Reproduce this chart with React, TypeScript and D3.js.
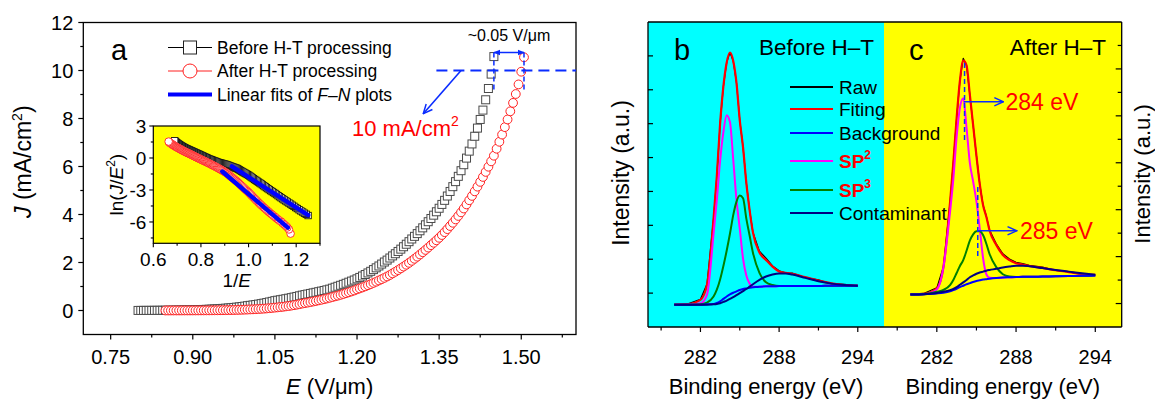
import React from 'react'
import * as d3 from 'd3'

// ---- panel a: J-E curves (E in V/um, J in mA/cm2) ----
const beforeE = [
  0.8, 0.805, 0.81, 0.815, 0.82, 0.825, 0.83, 0.835, 0.84, 0.845, 0.85, 0.855, 0.86, 0.865, 0.87, 0.875, 0.88, 0.885,
  0.89, 0.895, 0.9, 0.905, 0.91, 0.915, 0.92, 0.925, 0.93, 0.935, 0.94, 0.945, 0.95, 0.955, 0.96, 0.965, 0.97, 0.975,
  0.98, 0.985, 0.99, 0.995, 1.0, 1.005, 1.01, 1.015, 1.02, 1.025, 1.03, 1.035, 1.04, 1.045, 1.05, 1.055, 1.06, 1.065,
  1.07, 1.075, 1.08, 1.085, 1.09, 1.095, 1.1, 1.105, 1.11, 1.115, 1.12, 1.125, 1.13, 1.135, 1.14, 1.145, 1.15, 1.155,
  1.16, 1.165, 1.17, 1.175, 1.18, 1.185, 1.19, 1.195, 1.2, 1.205, 1.21, 1.215, 1.22, 1.225, 1.23, 1.235, 1.24, 1.245,
  1.25, 1.255, 1.26, 1.265, 1.27, 1.275, 1.28, 1.285, 1.29, 1.295, 1.3, 1.305, 1.31, 1.315, 1.32, 1.325, 1.33, 1.335,
  1.34, 1.345, 1.35, 1.355, 1.36, 1.365, 1.37, 1.375, 1.38, 1.385, 1.39, 1.395, 1.4, 1.405, 1.41, 1.415, 1.42, 1.425,
  1.43, 1.435, 1.44, 1.445, 1.45
]
const beforeJ = [
  0.0029, 0.0033, 0.0037, 0.0042, 0.0047, 0.0053, 0.006, 0.0067, 0.0076, 0.0085, 0.0096, 0.0107, 0.012, 0.0134,
  0.0149, 0.0167, 0.0186, 0.0208, 0.0232, 0.026, 0.029, 0.0321, 0.0355, 0.0393, 0.0435, 0.0482, 0.0533, 0.059, 0.0653,
  0.0723, 0.08, 0.0877, 0.0961, 0.1053, 0.1154, 0.1265, 0.1387, 0.152, 0.1666, 0.1826, 0.2, 0.215, 0.231, 0.248, 0.266,
  0.286, 0.307, 0.33, 0.355, 0.381, 0.41, 0.429, 0.448, 0.468, 0.49, 0.512, 0.535, 0.56, 0.585, 0.612, 0.64, 0.663,
  0.686, 0.71, 0.734, 0.758, 0.783, 0.808, 0.834, 0.861, 0.89, 0.93, 0.97, 1.01, 1.05, 1.09, 1.135, 1.18, 1.225, 1.27,
  1.32, 1.378, 1.438, 1.5, 1.565, 1.633, 1.704, 1.778, 1.855, 1.935, 2.02, 2.1, 2.187, 2.275, 2.366, 2.46, 2.557, 2.657,
  2.761, 2.868, 2.98, 3.09, 3.204, 3.322, 3.444, 3.57, 3.7, 3.834, 3.972, 4.114, 4.26, 4.42, 4.59, 4.77, 4.96, 5.16,
  5.37, 5.59, 5.825, 6.075, 6.35, 6.64, 6.94, 7.26, 7.6, 7.96, 8.35, 8.78, 9.25, 9.85, 10.58
]
const afterE = [
  0.85, 0.855, 0.86, 0.865, 0.87, 0.875, 0.88, 0.885, 0.89, 0.895, 0.9, 0.905, 0.91, 0.915, 0.92, 0.925, 0.93, 0.935,
  0.94, 0.945, 0.95, 0.955, 0.96, 0.965, 0.97, 0.975, 0.98, 0.985, 0.99, 0.995, 1.0, 1.005, 1.01, 1.015, 1.02, 1.025,
  1.03, 1.035, 1.04, 1.045, 1.05, 1.055, 1.06, 1.065, 1.07, 1.075, 1.08, 1.085, 1.09, 1.095, 1.1, 1.105, 1.11, 1.115,
  1.12, 1.125, 1.13, 1.135, 1.14, 1.145, 1.15, 1.155, 1.16, 1.165, 1.17, 1.175, 1.18, 1.185, 1.19, 1.195, 1.2, 1.205,
  1.21, 1.215, 1.22, 1.225, 1.23, 1.235, 1.24, 1.245, 1.25, 1.255, 1.26, 1.265, 1.27, 1.275, 1.28, 1.285, 1.29, 1.295,
  1.3, 1.305, 1.31, 1.315, 1.32, 1.325, 1.33, 1.335, 1.34, 1.345, 1.35, 1.355, 1.36, 1.365, 1.37, 1.375, 1.38, 1.385,
  1.39, 1.395, 1.4, 1.405, 1.41, 1.415, 1.42, 1.425, 1.43, 1.435, 1.44, 1.445, 1.45, 1.455, 1.46, 1.465, 1.47, 1.475,
  1.48, 1.485, 1.49, 1.495, 1.5, 1.505
]
const afterJ = [
  0.0006, 0.0009, 0.0011, 0.0013, 0.0015, 0.0017, 0.002, 0.0022, 0.0025, 0.0028, 0.0032, 0.0036, 0.0041, 0.0046,
  0.0052, 0.0059, 0.0067, 0.0076, 0.0086, 0.0097, 0.011, 0.0125, 0.0142, 0.0162, 0.0184, 0.021, 0.0239, 0.0272, 0.031,
  0.0352, 0.04, 0.0447, 0.0498, 0.0556, 0.062, 0.0692, 0.0773, 0.0862, 0.0962, 0.1075, 0.12, 0.131, 0.143, 0.156,
  0.171, 0.186, 0.204, 0.222, 0.243, 0.265, 0.29, 0.31, 0.33, 0.352, 0.375, 0.398, 0.422, 0.447, 0.473, 0.5, 0.53,
  0.56, 0.59, 0.62, 0.653, 0.687, 0.722, 0.758, 0.795, 0.835, 0.88, 0.92, 0.962, 1.006, 1.052, 1.1, 1.15, 1.2, 1.252,
  1.306, 1.36, 1.418, 1.48, 1.546, 1.614, 1.684, 1.756, 1.83, 1.906, 1.986, 2.07, 2.155, 2.243, 2.334, 2.428, 2.524,
  2.622, 2.722, 2.822, 2.925, 3.03, 3.145, 3.265, 3.39, 3.52, 3.655, 3.795, 3.94, 4.09, 4.25, 4.42, 4.595, 4.775,
  4.965, 5.16, 5.36, 5.565, 5.775, 5.99, 6.215, 6.45, 6.74, 7.03, 7.33, 7.64, 7.96, 8.3, 8.65, 9.02, 9.42, 9.95, 10.55
]
// linear F-N fits (1/E, ln(J/E^2)) end points
const fitBeforeX = [0.93, 1.25]
const fitBeforeY = [-0.79, -5.36]
const fitAfterX = [0.89, 1.165]
const fitAfterY = [-1.27, -6.53]

const eTicks = [0.75, 0.9, 1.05, 1.2, 1.35, 1.5]
const eMinor = [0.825, 0.975, 1.125, 1.275, 1.425, 1.575]
const jTicks = [0, 2, 4, 6, 8, 10, 12]
const jMinor = [1, 3, 5, 7, 9, 11]
const invTicks = [0.6, 0.8, 1.0, 1.2]
const invMinor = [0.7, 0.9, 1.1, 1.3]
const lnTicks = [3, 0, -3, -6]
const lnMinor = [1.5, -1.5, -4.5, -7.5]

// ---- panels b, c: C1s XPS ----
const bindingEnergy = [
  280, 281, 282, 282.5, 283, 283.25, 283.5, 283.75, 284, 284.25, 284.5, 284.75, 285, 285.25, 285.5, 285.75, 286,
  286.5, 287, 287.5, 288, 288.5, 289, 290, 291, 292, 293, 294
]
const rawB = [0.67, 0.68, 0.82, 1.27, 3.2, 4.45, 6.0, 7.1, 7.8, 8.1, 7.85, 7.2, 6.1, 5.3, 4.25, 3.45, 2.8, 2.24, 2.03, 1.8, 1.66, 1.6, 1.59, 1.46, 1.39, 1.27, 1.26, 1.21]
const fitB = [0.66, 0.67, 0.8, 1.25, 3.2, 4.45, 6.0, 7.1, 7.8, 8.1, 7.85, 7.2, 6.1, 5.3, 4.25, 3.45, 2.8, 2.2, 1.98, 1.78, 1.64, 1.6, 1.57, 1.47, 1.37, 1.29, 1.24, 1.22]
const bgB = [0.66, 0.66, 0.66, 0.67, 0.68, 0.71, 0.76, 0.83, 0.9, 0.96, 1.01, 1.05, 1.09, 1.12, 1.14, 1.16, 1.17, 1.19, 1.2, 1.2, 1.21, 1.21, 1.21, 1.21, 1.21, 1.22, 1.22, 1.22]
const sp2B = [0.66, 0.66, 0.7, 0.95, 2.75, 3.75, 4.9, 5.75, 6.25, 6.05, 4.95, 3.75, 2.9, 2.02, 1.52, 1.28, 1.19, 1.19, 1.2, 1.2, 1.21, 1.21, 1.21, 1.21, 1.21, 1.22, 1.22, 1.22]
const sp3B = [0.66, 0.66, 0.67, 0.72, 0.9, 1.1, 1.4, 1.8, 2.25, 2.75, 3.3, 3.7, 3.88, 3.8, 3.2, 2.7, 2.2, 1.6, 1.32, 1.24, 1.21, 1.21, 1.21, 1.21, 1.21, 1.22, 1.22, 1.22]
const contB = [0.66, 0.66, 0.66, 0.66, 0.67, 0.68, 0.7, 0.74, 0.78, 0.83, 0.88, 0.94, 1.0, 1.06, 1.12, 1.19, 1.26, 1.39, 1.49, 1.55, 1.58, 1.58, 1.55, 1.45, 1.35, 1.28, 1.24, 1.22]

const rawC = [1.4, 1.43, 1.67, 2.57, 5.3, 7.0, 8.9, 10.5, 11.45, 11.15, 9.9, 8.6, 7.3, 6.1, 5.2, 4.72, 4.12, 3.55, 3.12, 2.9, 2.76, 2.7, 2.63, 2.55, 2.41, 2.36, 2.24, 2.21]
const fitC = [1.39, 1.41, 1.65, 2.55, 5.3, 7.0, 8.9, 10.5, 11.35, 11.15, 9.9, 8.6, 7.3, 6.1, 5.2, 4.7, 4.1, 3.5, 3.07, 2.85, 2.72, 2.66, 2.6, 2.52, 2.42, 2.34, 2.25, 2.22]
const bgC = [1.39, 1.4, 1.43, 1.46, 1.52, 1.57, 1.63, 1.7, 1.76, 1.82, 1.87, 1.92, 1.96, 1.99, 2.02, 2.04, 2.06, 2.09, 2.11, 2.12, 2.13, 2.14, 2.14, 2.15, 2.16, 2.17, 2.18, 2.19]
const sp2C = [1.39, 1.4, 1.6, 2.55, 4.9, 6.3, 8.1, 9.35, 9.75, 8.5, 7.0, 6.2, 5.35, 4.2, 2.95, 2.25, 2.1, 2.09, 2.11, 2.12, 2.13, 2.14, 2.14, 2.15, 2.16, 2.17, 2.18, 2.19]
const sp3C = [1.39, 1.4, 1.5, 1.58, 1.78, 2.0, 2.3, 2.6, 2.85, 3.25, 3.68, 3.95, 4.08, 4.08, 3.92, 3.55, 3.1, 2.55, 2.25, 2.15, 2.13, 2.14, 2.14, 2.15, 2.16, 2.17, 2.18, 2.19]
const contC = [1.39, 1.4, 1.45, 1.5, 1.57, 1.62, 1.7, 1.8, 1.9, 2.0, 2.12, 2.2, 2.27, 2.32, 2.36, 2.4, 2.43, 2.48, 2.54, 2.58, 2.61, 2.61, 2.59, 2.51, 2.43, 2.36, 2.29, 2.23]

const beTicks = [282, 288, 294]
const beMinor = [279, 285, 291]
const intTicksB = [1, 2, 3, 4, 5, 6, 7, 8]
const intTicksC = [1, 2, 3, 4, 5, 6, 7, 8, 9, 10, 11, 12]

const legendLabels = ['Raw', 'Fiting', 'Background', 'SP', 'SP', 'Contaminant']
const legendSup = ['', '', '', '2', '3', '']

const FONT = "'Liberation Sans', Arial, Helvetica, sans-serif"
const BLUE = '#0a2cff'
const colors = {raw: '#000000', fit: '#ff0000', bg: '#0000ff', sp2: '#ff00ff', sp3: '#008000', cont: '#000080'}

export default function App() {
  // panel a scales
  const x = d3.scaleLinear().domain([0.7, 1.6]).range([83.3, 576])
  const y = d3.scaleLinear().domain([-1, 12]).range([334.5, 22.5])
  // inset scales
  const ix = d3.scaleLinear().domain([0.6, 1.3]).range([153.3, 320])
  const iy = d3.scaleLinear().domain([-8, 3]).range([243.3, 126])
  // xps scales
  const xb = d3.scaleLinear().domain([278, 296]).range([648, 884])
  const yb = d3.scaleLinear().domain([0, 9]).range([327, 22])
  const xc = d3.scaleLinear().domain([278, 296]).range([884, 1121.7])
  const yc = d3.scaleLinear().domain([0, 13]).range([327, 22])

  const insetBefore = beforeE.map((e, i) => [1 / e, Math.log(beforeJ[i] / (e * e))])
  const insetAfter = afterE.map((e, i) => [1 / e, Math.log(afterJ[i] / (e * e))])

  const xpsLine = (xs: any, ys: any, curve: any) =>
    d3
      .line<number>()
      .x((_, i) => xs(bindingEnergy[i]))
      .y(d => ys(d))
      .curve(curve)

  const lineB = xpsLine(xb, yb, d3.curveMonotoneX)
  const rawLineB = xpsLine(xb, yb, d3.curveLinear)
  const lineC = xpsLine(xc, yc, d3.curveMonotoneX)
  const rawLineC = xpsLine(xc, yc, d3.curveLinear)

  const seriesB = [
    {d: rawB, c: colors.raw, w: 1.2, raw: true},
    {d: fitB, c: colors.fit, w: 2.2},
    {d: sp2B, c: colors.sp2, w: 2},
    {d: sp3B, c: colors.sp3, w: 2},
    {d: bgB, c: colors.bg, w: 2},
    {d: contB, c: colors.cont, w: 2}
  ]
  const seriesC = [
    {d: rawC, c: colors.raw, w: 1.2, raw: true},
    {d: fitC, c: colors.fit, w: 2.2},
    {d: sp2C, c: colors.sp2, w: 2},
    {d: sp3C, c: colors.sp3, w: 2},
    {d: bgC, c: colors.bg, w: 2},
    {d: contC, c: colors.cont, w: 2}
  ]
  const legendColors = [colors.raw, colors.fit, colors.bg, colors.sp2, colors.sp3, colors.cont]
  const legendY = [87, 109, 133, 161, 190, 213]

  const aLeft = 83.3
  const aRight = 576
  const aTop = y(12)
  const aBot = y(-1)
  const lastBefore = beforeE[beforeE.length - 1]
  const lastAfter = afterE[afterE.length - 1]

  return (
    <svg
      width={1155}
      height={399}
      style={{position: 'absolute', left: 0, top: 0, background: '#fff'}}
      fontFamily={FONT}
    >
      <defs>
        <marker id="tri" viewBox="0 0 10 10" refX="9" refY="5" markerWidth="7" markerHeight="7"
          orient="auto-start-reverse" markerUnits="userSpaceOnUse">
          <path d="M0,1 L10,5 L0,9 z" fill={BLUE} />
        </marker>
        <marker id="vee" viewBox="0 0 12 12" refX="11" refY="6" markerWidth="11" markerHeight="11"
          orient="auto" markerUnits="userSpaceOnUse">
          <path d="M1,1.5 L11,6 L1,10.5" fill="none" stroke={BLUE} strokeWidth="1.6" />
        </marker>
        <clipPath id="clipA">
          <rect x={aLeft} y={aTop} width={aRight - aLeft} height={aBot - aTop} />
        </clipPath>
      </defs>

      {/* ================= panel a ================= */}
      <g clipPath="url(#clipA)">
        {beforeE.map((e, i) => (
          <rect key={'b' + i} x={x(e) - 4} y={y(beforeJ[i]) - 4} width={8} height={8}
            fill="#fff" stroke="#4a4a4a" strokeWidth={1} />
        ))}
        {afterE.map((e, i) => (
          <circle key={'a' + i} cx={x(e)} cy={y(afterJ[i])} r={4.4} fill="#fff" stroke="#ff2020" strokeWidth={1} />
        ))}
      </g>
      <rect x={aLeft} y={aTop} width={aRight - aLeft} height={aBot - aTop} fill="none" stroke="#000" strokeWidth={1.3} />
      {jTicks.map(t => (
        <g key={'jt' + t}>
          <line x1={aLeft - 5} x2={aLeft} y1={y(t)} y2={y(t)} stroke="#000" strokeWidth={1.2} />
          <text x={aLeft - 10} y={y(t) + 7} fontSize={20} textAnchor="end">{t}</text>
        </g>
      ))}
      {jMinor.map(t => (
        <line key={'jm' + t} x1={aLeft - 3} x2={aLeft} y1={y(t)} y2={y(t)} stroke="#000" strokeWidth={1.2} />
      ))}
      {eTicks.map(t => (
        <g key={'et' + t}>
          <line x1={x(t)} x2={x(t)} y1={aBot} y2={aBot + 5} stroke="#000" strokeWidth={1.2} />
          <text x={x(t)} y={aBot + 29} fontSize={20} textAnchor="middle">{t.toFixed(2)}</text>
        </g>
      ))}
      {eMinor.map(t => (
        <line key={'em' + t} x1={x(t)} x2={x(t)} y1={aBot} y2={aBot + 3} stroke="#000" strokeWidth={1.2} />
      ))}
      <text x={(aLeft + aRight) / 2} y={394} fontSize={22} textAnchor="middle">
        <tspan fontStyle="italic">E</tspan> (V/μm)
      </text>
      <text transform={`translate(31,${y(6.2)}) rotate(-90)`} fontSize={23} textAnchor="middle">
        <tspan fontStyle="italic">J</tspan> (mA/cm<tspan fontSize={14} dy={-9}>2</tspan><tspan dy={9}>)</tspan>
      </text>
      <text x={111} y={60} fontSize={29}>a</text>

      {/* legend a */}
      <line x1={168} x2={212} y1={47.5} y2={47.5} stroke="#000" strokeWidth={1} />
      <rect x={183.5} y={41} width={13} height={13} fill="#fff" stroke="#222" strokeWidth={1} />
      <text x={217} y={53.5} fontSize={17.5}>Before H-T processing</text>
      <line x1={168} x2={212} y1={71} y2={71} stroke="#ff2020" strokeWidth={1} />
      <circle cx={190} cy={71} r={7} fill="#fff" stroke="#ff2020" strokeWidth={1} />
      <text x={217} y={77} fontSize={17.5}>After H-T processing</text>
      <line x1={168} x2={212} y1={94.5} y2={94.5} stroke="#0000ff" strokeWidth={4} />
      <text x={217} y={100.5} fontSize={17.5}>
        Linear fits of <tspan fontStyle="italic">F</tspan>–<tspan fontStyle="italic">N</tspan> plots
      </text>

      {/* annotations a */}
      <line x1={x(1.345)} x2={aRight} y1={y(10)} y2={y(10)} stroke={BLUE} strokeWidth={2} strokeDasharray="11,6" />
      <line x1={x(lastBefore)} x2={x(lastBefore)} y1={y(10.75)} y2={y(9.1)}
        stroke={BLUE} strokeWidth={1.5} strokeDasharray="5,3" />
      <line x1={x(lastAfter)} x2={x(lastAfter)} y1={y(10.75)} y2={y(9.1)}
        stroke={BLUE} strokeWidth={1.5} strokeDasharray="5,3" />
      <line x1={x(lastBefore)} x2={x(lastAfter)} y1={y(10.75)} y2={y(10.75)}
        stroke={BLUE} strokeWidth={1.5} markerStart="url(#tri)" markerEnd="url(#tri)" />
      <text x={(x(lastBefore) + x(lastAfter)) / 2} y={41} fontSize={16} textAnchor="middle">~0.05 V/μm</text>
      <line x1={x(1.39)} y1={y(10)} x2={x(1.321)} y2={y(8.2)} stroke={BLUE} strokeWidth={1.6} markerEnd="url(#vee)" />
      <text x={352} y={136} fontSize={22} fill="#ff0000">
        10 mA/cm<tspan fontSize={14} dy={-10}>2</tspan>
      </text>

      {/* inset */}
      <rect x={ix(0.6)} y={iy(3)} width={ix(1.3) - ix(0.6)} height={iy(-8) - iy(3)} fill="#ffff00" />
      <g>
        {insetBefore.map((p, i) => (
          <rect key={'ib' + i} x={ix(p[0]) - 3.2} y={iy(p[1]) - 3.2} width={6.4} height={6.4}
            fill="#fff" stroke="#111" strokeWidth={0.9} />
        ))}
        {insetAfter.map((p, i) => (
          <circle key={'ia' + i} cx={ix(p[0])} cy={iy(p[1])} r={3.8} fill="#fff" stroke="#ff2020" strokeWidth={0.9} />
        ))}
        <line x1={ix(fitBeforeX[0])} y1={iy(fitBeforeY[0])} x2={ix(fitBeforeX[1])} y2={iy(fitBeforeY[1])}
          stroke="#0000ff" strokeWidth={4.5} strokeLinecap="round" />
        <line x1={ix(fitAfterX[0])} y1={iy(fitAfterY[0])} x2={ix(fitAfterX[1])} y2={iy(fitAfterY[1])}
          stroke="#0000ff" strokeWidth={4.5} strokeLinecap="round" />
      </g>
      <rect x={ix(0.6)} y={iy(3)} width={ix(1.3) - ix(0.6)} height={iy(-8) - iy(3)} fill="none" stroke="#000" strokeWidth={1.2} />
      {lnTicks.map(t => (
        <g key={'lt' + t}>
          <line x1={ix(0.6) - 4} x2={ix(0.6)} y1={iy(t)} y2={iy(t)} stroke="#000" strokeWidth={1.1} />
          <text x={ix(0.6) - 7} y={iy(t) + 7} fontSize={19} textAnchor="end">{t}</text>
        </g>
      ))}
      {lnMinor.map(t => (
        <line key={'lm' + t} x1={ix(0.6) - 2.5} x2={ix(0.6)} y1={iy(t)} y2={iy(t)} stroke="#000" strokeWidth={1.1} />
      ))}
      {invTicks.map(t => (
        <g key={'it' + t}>
          <line x1={ix(t)} x2={ix(t)} y1={iy(-8)} y2={iy(-8) + 4} stroke="#000" strokeWidth={1.1} />
          <text x={ix(t)} y={iy(-8) + 23} fontSize={19} textAnchor="middle">{t.toFixed(1)}</text>
        </g>
      ))}
      {invMinor.map(t => (
        <line key={'im' + t} x1={ix(t)} x2={ix(t)} y1={iy(-8)} y2={iy(-8) + 2.5} stroke="#000" strokeWidth={1.1} />
      ))}
      <text x={(ix(0.6) + ix(1.3)) / 2} y={287} fontSize={19} textAnchor="middle">
        1/<tspan fontStyle="italic">E</tspan>
      </text>
      <text transform={`translate(123,${iy(-2.5)}) rotate(-90)`} fontSize={19} textAnchor="middle">
        ln(<tspan fontStyle="italic">J</tspan>/<tspan fontStyle="italic">E</tspan>
        <tspan fontSize={12} dy={-8}>2</tspan><tspan dy={8}>)</tspan>
      </text>

      {/* ================= panels b & c ================= */}
      <rect x={xb(278)} y={yb(9)} width={xb(296) - xb(278)} height={yb(0) - yb(9)} fill="#00ffff" />
      <rect x={xc(278)} y={yc(13)} width={xc(296) - xc(278)} height={yc(0) - yc(13)} fill="#ffff00" />

      {seriesB.map((s, i) => (
        <path key={'sb' + i} d={(s.raw ? rawLineB : lineB)(s.d) || ''} fill="none" stroke={s.c} strokeWidth={s.w}
          strokeLinejoin="round" />
      ))}
      {seriesC.map((s, i) => (
        <path key={'sc' + i} d={(s.raw ? rawLineC : lineC)(s.d) || ''} fill="none" stroke={s.c} strokeWidth={s.w}
          strokeLinejoin="round" />
      ))}

      {/* frame b+c */}
      <line x1={xb(278)} x2={xc(296)} y1={22} y2={22} stroke="#000" strokeWidth={1.3} />
      <line x1={xb(278)} x2={xc(296)} y1={327} y2={327} stroke="#000" strokeWidth={1.3} />
      <line x1={xb(278)} x2={xb(278)} y1={22} y2={327} stroke="#000" strokeWidth={1.3} />
      <line x1={xc(296)} x2={xc(296)} y1={22} y2={327} stroke="#000" strokeWidth={1.3} />

      {intTicksB.map(t => (
        <line key={'ib' + t} x1={xb(278)} x2={xb(278) + 5} y1={yb(t)} y2={yb(t)} stroke="#000" strokeWidth={1.2} />
      ))}
      {intTicksC.map(t => (
        <line key={'ic' + t} x1={xc(296) - (t % 2 === 1 ? 6 : 4)} x2={xc(296)} y1={yc(t)} y2={yc(t)} stroke="#000"
          strokeWidth={1.2} />
      ))}
      {[xb, xc].map((sx, k) => (
        <g key={'bx' + k}>
          {beTicks.map(t => (
            <g key={t}>
              <line x1={sx(t)} x2={sx(t)} y1={327} y2={332} stroke="#000" strokeWidth={1.2} />
              <text x={sx(t)} y={363.5} fontSize={20} textAnchor="middle">{t}</text>
            </g>
          ))}
          {beMinor.map(t => (
            <line key={'m' + t} x1={sx(t)} x2={sx(t)} y1={327} y2={330.5} stroke="#000" strokeWidth={1.2} />
          ))}
          <text x={(sx(278) + sx(296)) / 2} y={394} fontSize={22} textAnchor="middle">Binding energy (eV)</text>
        </g>
      ))}
      <text transform={`translate(629,173) rotate(-90)`} fontSize={23} textAnchor="middle">Intensity (a.u.)</text>
      <text transform={`translate(1150,174) rotate(-90)`} fontSize={22} textAnchor="middle">Intensity (a.u.)</text>

      <text x={674} y={60} fontSize={29}>b</text>
      <text x={759} y={55} fontSize={22.5}>Before H–T</text>
      <text x={909} y={60} fontSize={29}>c</text>
      <text x={1106} y={55} fontSize={22.5} textAnchor="end">After H–T</text>

      {/* legend b */}
      {legendLabels.map((lab, i) => (
        <g key={'lg' + i}>
          <line x1={790} x2={833} y1={legendY[i]} y2={legendY[i]} stroke={legendColors[i]} strokeWidth={2} />
          {legendSup[i] ? (
            <text x={839} y={legendY[i] + 7} fontSize={19} fill="#ff0000" fontWeight="bold">
              {lab}<tspan fontSize={12} dy={-9}>{legendSup[i]}</tspan>
            </text>
          ) : (
            <text x={839} y={legendY[i] + 7} fontSize={19}>{lab}</text>
          )}
        </g>
      ))}

      {/* annotations c */}
      <line x1={xc(284.1)} x2={xc(284.1)} y1={yc(11.25)} y2={yc(7.84)} stroke={BLUE} strokeWidth={1.5} strokeDasharray="5,3" />
      <line x1={xc(285.1)} x2={xc(285.1)} y1={yc(5.97)} y2={yc(2.94)} stroke={BLUE} strokeWidth={1.5} strokeDasharray="5,3" />
      <line x1={xc(284.05)} x2={xc(287.05)} y1={yc(9.6)} y2={yc(9.6)} stroke={BLUE} strokeWidth={1.5} markerEnd="url(#vee)" />
      <line x1={xc(285.1)} x2={xc(288.05)} y1={yc(4.1)} y2={yc(4.1)} stroke={BLUE} strokeWidth={1.5} markerEnd="url(#vee)" />
      <text x={xc(287.2)} y={yc(9.6) + 8.5} fontSize={23} fill="#ff0000">284 eV</text>
      <text x={xc(288.3)} y={yc(4.1) + 8.5} fontSize={23} fill="#ff0000">285 eV</text>
    </svg>
  )
}
